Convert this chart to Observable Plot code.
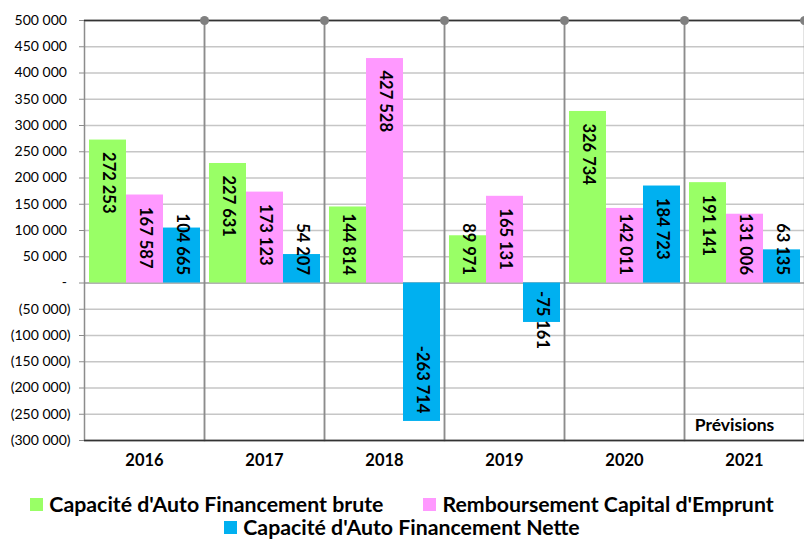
<!DOCTYPE html>
<html>
<head>
<meta charset="utf-8">
<script src="https://cdn.jsdelivr.net/npm/d3@7"></script>
<script src="https://cdn.jsdelivr.net/npm/@observablehq/plot@0.6"></script>
<style>
  html, body { margin: 0; padding: 0; background: #fff; }
  body { width: 804px; height: 542px; overflow: hidden; font-family: Lato, "Open Sans", sans-serif; }
  #legend { font-family: Lato, sans-serif; font-weight: bold; font-size: 21.3px; color: #000; text-align: center; line-height: 23px; padding-top: 13px; }
  #legend .row { display: flex; justify-content: center; align-items: center; height: 23px; }
  #legend .item { display: inline-flex; align-items: center; margin: 0 20px; white-space: nowrap; }
  #legend .sw { width: 13px; height: 13px; margin-right: 6px; display: inline-block; }
</style>
</head>
<body>
<div id="chart"></div>
<div id="legend"></div>
<script>
const years = ["2016", "2017", "2018", "2019", "2020", "2021"];
const series = [
  "Capacité d'Auto Financement brute",
  "Remboursement Capital d'Emprunt",
  "Capacité d'Auto Financement Nette"
];
const colors = ["#99FF66", "#FF99FF", "#00B0F0"];
const cafBrute = [272253, 227631, 144814, 89971, 326734, 191141];
const rembCapital = [167587, 173123, 427528, 165131, 142011, 131006];
const cafNette = [104665, 54207, -263714, -75161, 184723, 63135];
const yTicks = [-300000, -250000, -200000, -150000, -100000, -50000, 0, 50000, 100000, 150000, 200000, 250000, 300000, 350000, 400000, 450000, 500000];
const forecastYear = "2021";
const forecastLabel = "Prévisions";

const valuesBySeries = [cafBrute, rembCapital, cafNette];
const data = [];
years.forEach((yr, i) => {
  series.forEach((s, j) => data.push({year: yr, series: s, value: valuesBySeries[j][i]}));
});

const fmt = v => d3.format(",")(Math.abs(v)).replace(/,/g, " ");
const yFmt = v => v === 0 ? "-\u00a0" : v < 0 ? "(" + fmt(v) + ")" : fmt(v) + "\u00a0";
const labelFmt = d => (d.value < 0 ? "-" : "") + fmt(d.value);

const big = d => Math.abs(d.value) >= 150000;
const labelStyle = {
  fx: "year", x: "series", text: labelFmt, rotate: 90,
  fontSize: 16.5, fontWeight: "bold", fill: "#000", fontFamily: "Lato, sans-serif"
};

const chart = Plot.plot({
  width: 804,
  height: 480,
  marginLeft: 84,
  marginRight: 0,
  marginTop: 20,
  marginBottom: 40,
  style: {fontFamily: "Lato, sans-serif", background: "#fff", overflow: "visible"},
  fx: {domain: years, padding: 0, label: null},
  x: {domain: series, paddingInner: 0, paddingOuter: 0.12, axis: null},
  y: {domain: [-300000, 500000], label: null},
  color: {domain: series, range: colors},
  marks: [
    Plot.ruleY(yTicks, {stroke: "#c6c6c6", strokeWidth: 1.3}),
    Plot.ruleY([0], {stroke: "#a8a8a8", strokeWidth: 1.3}),
    Plot.frame({stroke: "#8c8c8c", strokeWidth: 1.5}),
    Plot.ruleY([-300000, 500000], {stroke: "#333", strokeWidth: 1.5}),
    Plot.barY(data, {fx: "year", x: "series", y: "value", fill: "series"}),
    Plot.text(data.filter(d => big(d) && d.value > 0), {...labelStyle, y: "value", textAnchor: "start", dy: 12}),
    Plot.text(data.filter(d => !big(d) && d.value > 0), {...labelStyle, y: () => 0, textAnchor: "end", dy: -8}),
    Plot.text(data.filter(d => big(d) && d.value < 0), {...labelStyle, y: "value", textAnchor: "end", dy: -8}),
    Plot.text(data.filter(d => !big(d) && d.value < 0), {...labelStyle, y: () => 0, textAnchor: "start", dy: 8}),
    Plot.text([{year: forecastYear, t: forecastLabel}], {fx: "year", text: "t", frameAnchor: "bottom", dy: -15, dx: -10, fontSize: 17.5, fontWeight: "bold", fill: "#000", lineAnchor: "middle"}),
    Plot.dot([0], {frameAnchor: "top-right", r: 4.5, fill: "#808080", stroke: null}),
    Plot.axisY({ticks: yTicks, tickFormat: yFmt, tickSize: 5, tickPadding: 9, fontSize: 14, stroke: "#8c8c8c", fill: "#000", label: null}),
    Plot.axisFx({anchor: "bottom", tickSize: 0, tickPadding: 14, fontSize: 16.5, fontWeight: "bold", fill: "#000", label: null})
  ]
});
document.getElementById("chart").appendChild(chart);

const legend = document.getElementById("legend");
const rows = [[0, 1], [2]];
rows.forEach(r => {
  const row = document.createElement("div");
  row.className = "row";
  r.forEach(j => {
    const it = document.createElement("span");
    it.className = "item";
    const sw = document.createElement("span");
    sw.className = "sw";
    sw.style.background = colors[j];
    it.appendChild(sw);
    it.appendChild(document.createTextNode(series[j]));
    row.appendChild(it);
  });
  legend.appendChild(row);
});
</script>
</body>
</html>
